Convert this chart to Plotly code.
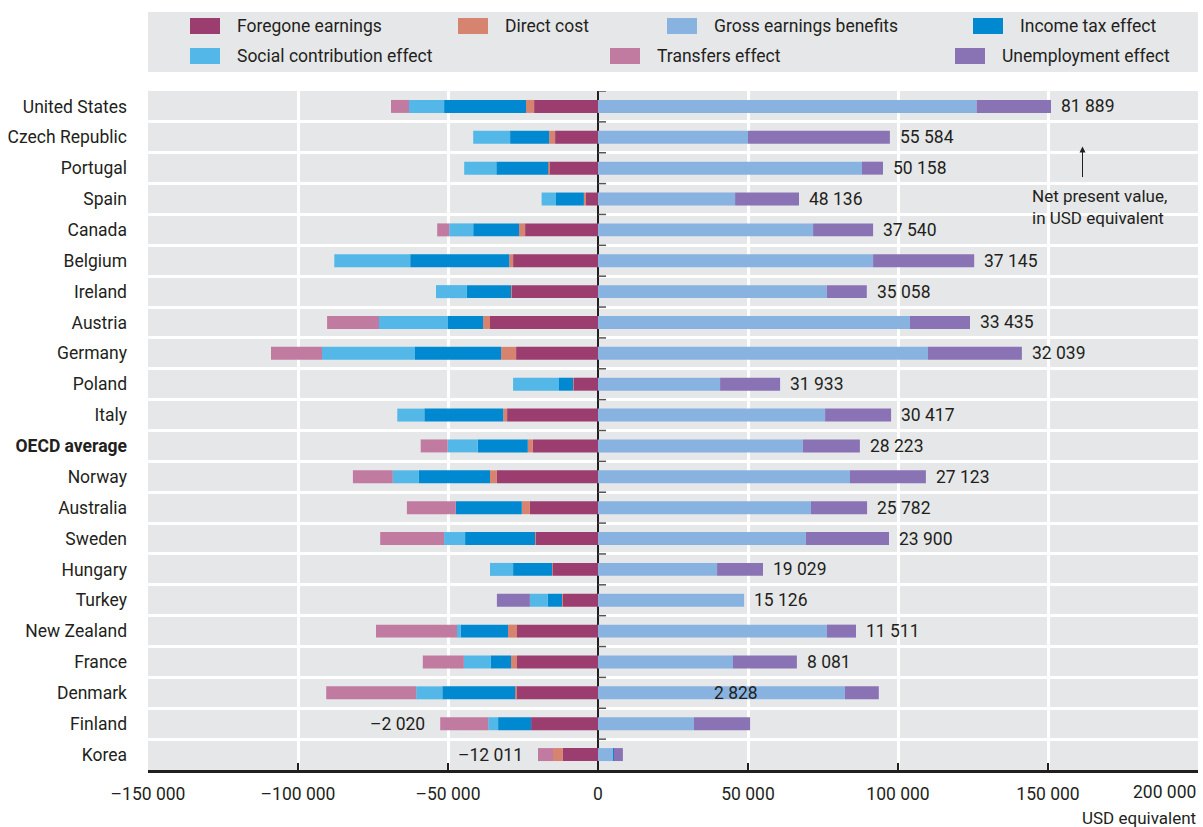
import plotly.graph_objects as go

countries = ["United States", "Czech Republic", "Portugal", "Spain", "Canada", "Belgium",
             "Ireland", "Austria", "Germany", "Poland", "Italy", "OECD average", "Norway",
             "Australia", "Sweden", "Hungary", "Turkey", "New Zealand", "France", "Denmark",
             "Finland", "Korea"]

foregone = [-21300, -14300, -16300, -4000, -24300, -28300, -28700, -36000, -27300, -8000, -30300,
            -21700, -33700, -22700, -20700, -15000, -11700, -27000, -27000, -27300, -22300, -11700]
direct_cost = [-2700, -2000, -300, -700, -2000, -1300, -300, -2300, -5000, -300, -1300,
               -1700, -2300, -2700, -300, -300, -300, -3000, -2000, -300, 0, -3300]
gross_benefits = [126200, 50000, 88000, 45700, 71700, 91700, 76300, 104000, 110000, 40700, 75700,
                  68300, 84000, 71000, 69300, 39700, 48700, 76300, 45000, 82300, 32000, 5000]
income_tax = [-27300, -13000, -17300, -9300, -15300, -33000, -14700, -11700, -28700, -4700, -26300,
              -16700, -23700, -22000, -23300, -13000, -4700, -15700, -6700, -24300, -11000, 300]
social_contrib = [-11700, -12300, -10700, -4800, -8000, -25300, -10300, -23000, -31000, -15300, -9000,
                  -10000, -8700, 0, -7000, -7700, -6000, -1300, -9000, -8700, -3300, 0]
transfers = [-6000, 0, 0, 0, -4000, 0, 0, -17300, -17000, 0, 0,
             -9000, -13300, -16300, -21300, 0, 0, -27000, -13700, -30000, -16000, -5000]
unemployment = [24800, 47300, 7000, 21300, 20000, 33700, 13300, 20000, 31300, 20000, 22000,
                19000, 25300, 18700, 27700, 15300, -11000, 9700, 21300, 11300, 18700, 3000]
net_value = [81889, 55584, 50158, 48136, 37540, 37145, 35058, 33435, 32039, 31933, 30417,
             28223, 27123, 25782, 23900, 19029, 15126, 11511, 8081, 2828, -2020, -12011]

x_ticks = [-150000, -100000, -50000, 0, 50000, 100000, 150000, 200000]

series = [
    ("Foregone earnings", foregone, "#9b3d6f"),
    ("Direct cost", direct_cost, "#d6836f"),
    ("Gross earnings benefits", gross_benefits, "#88b2e0"),
    ("Income tax effect", income_tax, "#0089d0"),
    ("Social contribution effect", social_contrib, "#53b7e8"),
    ("Transfers effect", transfers, "#c27ba0"),
    ("Unemployment effect", unemployment, "#8a73b5"),
]

FONT = "Roboto, Liberation Sans, Arial, sans-serif"
FS = 17.5
TXT = "#231f20"
BG = "#e6e7e8"

n = len(countries)
ypos = list(range(n))

fig = go.Figure()
for name, vals, col in series:
    fig.add_trace(go.Bar(
        name=name, x=vals, y=ypos, orientation="h",
        marker=dict(color=col, line=dict(width=0)),
        showlegend=False, hoverinfo="x+name",
    ))


def fmt(v):
    s = f"{abs(v):,}".replace(",", " ")
    return ("\u2013" + s) if v < 0 else s


annotations = []
for i, c in enumerate(countries):
    pos_sum = sum(s[1][i] for s in series if s[1][i] > 0)
    neg_sum = sum(s[1][i] for s in series if s[1][i] < 0)
    v = net_value[i]
    f = dict(size=FS, color=TXT, family=FONT)
    if c == "Denmark":
        annotations.append(dict(x=gross_benefits[i] * 0.46, y=i, xref="x", yref="y", text=fmt(v),
                                showarrow=False, xanchor="left", yanchor="middle", font=f))
    elif v >= 0:
        annotations.append(dict(x=pos_sum, y=i, xref="x", yref="y", text=fmt(v),
                                showarrow=False, xanchor="left", yanchor="middle", xshift=8, font=f))
    else:
        annotations.append(dict(x=neg_sum, y=i, xref="x", yref="y", text=fmt(v),
                                showarrow=False, xanchor="right", yanchor="middle", xshift=-13, font=f))

# Net present value note with arrow
annotations.append(dict(x=161500, y=1.3, xref="x", yref="y", text="", showarrow=True,
                        ax=0, ay=32, arrowhead=2, arrowsize=1.2, arrowwidth=1, arrowcolor=TXT))
annotations.append(dict(x=144000, y=2.5, xref="x", yref="y",
                        text="Net present value,<br>in USD equivalent", showarrow=False,
                        xanchor="left", yanchor="top", align="left",
                        font=dict(size=FS - 0.5, color=TXT, family=FONT)))
# last x tick label, kept inside the page edge
annotations.append(dict(x=x_ticks[-1], y=(770 - 792) / 679, xref="x", yref="paper", text=fmt(x_ticks[-1]),
                        showarrow=False, xanchor="right", yanchor="middle",
                        font=dict(size=FS, color=TXT, family=FONT)))
# axis title
annotations.append(dict(x=1, y=(770 - 818) / 679, xref="paper", yref="paper", text="USD equivalent",
                        showarrow=False, xanchor="right", yanchor="middle",
                        font=dict(size=FS - 0.5, color=TXT, family=FONT)))

# manual legend
shapes = [dict(type="rect", xref="paper", yref="paper", x0=0, x1=1,
               y0=(770 - 72) / 679, y1=(770 - 12) / 679, fillcolor=BG, line=dict(width=0), layer="below")]
legend_px = {
    "Foregone earnings": (190, 26), "Direct cost": (458, 26), "Gross earnings benefits": (667, 26),
    "Income tax effect": (973, 26), "Social contribution effect": (190, 56),
    "Transfers effect": (610, 56), "Unemployment effect": (955, 56),
}


def px_x(p):
    return (p - 148) / 1050


def px_y(p):
    return (770 - p) / 679


for name, vals, col in series:
    lx, ly = legend_px[name]
    shapes.append(dict(type="rect", xref="paper", yref="paper", x0=px_x(lx), x1=px_x(lx + 30),
                       y0=px_y(ly + 8), y1=px_y(ly - 8), fillcolor=col, line=dict(width=0)))
    annotations.append(dict(x=px_x(lx + 45), y=px_y(ly), xref="paper", yref="paper", text=name,
                            showarrow=False, xanchor="left", yanchor="middle",
                            font=dict(size=FS, color=TXT, family=FONT)))

# small tick marks on the zero line at row boundaries
for i in range(n):
    shapes.append(dict(type="line", xref="x", yref="y", xsizemode="pixel", xanchor=0,
                       x0=0, x1=8, y0=i - 0.5, y1=i - 0.5,
                       line=dict(color="#555555", width=1.5), layer="above"))

ticktext_y = [("<b>%s</b>" % c) if c == "OECD average" else c for c in countries]
ticktext_x = [fmt(t) for t in x_ticks[:-1]] + [""]

fig.update_layout(
    width=1203, height=827,
    margin=dict(l=148, r=5, t=91, b=57),
    paper_bgcolor="white", plot_bgcolor=BG,
    barmode="relative", bargap=0.58,
    font=dict(family=FONT, size=FS, color=TXT),
    showlegend=False,
    xaxis=dict(range=[-150000, 200000], tickvals=x_ticks,
               ticktext=ticktext_x, automargin=False,
               showgrid=True, gridcolor="white", gridwidth=3,
               zeroline=True, zerolinecolor=TXT, zerolinewidth=2,
               showline=True, linecolor=TXT, linewidth=3,
               ticks="inside", ticklen=7, tickcolor=TXT, tickwidth=2,
               ticklabelstandoff=6,
               tickfont=dict(size=FS, color=TXT, family=FONT), fixedrange=True),
    yaxis=dict(range=[n - 0.5, -0.5], tickvals=ypos, ticktext=ticktext_y, automargin=False,
               showgrid=False, zeroline=False, showline=False, ticks="",
               ticklabelstandoff=20,
               minor=dict(tickvals=[i + 0.5 for i in range(n - 1)], showgrid=True,
                          gridcolor="white", gridwidth=3, ticks=""),
               tickfont=dict(size=FS, color=TXT, family=FONT), fixedrange=True),
    annotations=annotations,
    shapes=shapes,
)

fig.write_html("out.html", config={"displayModeBar": False},
               post_script="document.body.style.margin='0';document.body.style.overflow='hidden';")
